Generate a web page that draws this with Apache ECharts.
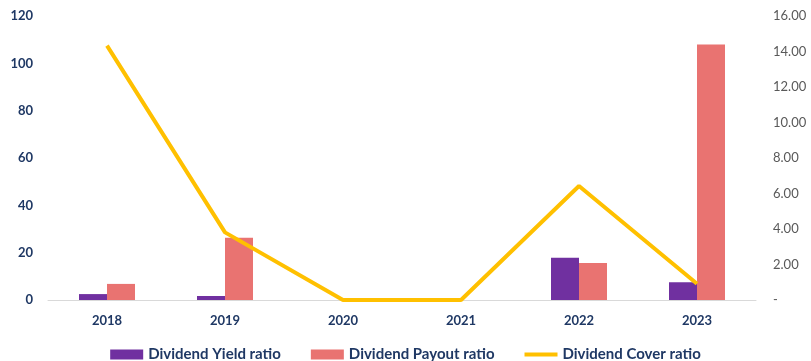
<!DOCTYPE html>
<html>
<head>
<meta charset="utf-8">
<script src="https://cdn.jsdelivr.net/npm/echarts@6/dist/echarts.min.js"></script>
<style>
  html, body { margin: 0; padding: 0; background: #fff; }
  #chart { width: 811px; height: 361px; }
</style>
</head>
<body>
<div id="chart"></div>
<script>
const years = ['2018', '2019', '2020', '2021', '2022', '2023'];
const yieldRatio = [2.5, 1.7, 0, 0, 17.9, 7.5];
const payoutRatio = [6.8, 26.3, 0, 0, 15.6, 108];
const coverRatio = [14.33, 3.81, 0, 0, 6.42, 0.92];

const navy = '#1F3864';
const font = 'Lato';

var myChart = echarts.init(document.getElementById('chart'));
var option = {
    animation: false,
    textStyle: { fontFamily: font },
    grid: { left: 48, right: 55, top: 16, bottom: 61 },
    legend: {
        top: 342,
        left: 'center',
        itemGap: 30,
        itemWidth: 33,
        itemHeight: 10,
        textStyle: { color: navy, fontWeight: 'bold', fontSize: 15, fontFamily: font },
        data: [
            { name: 'Dividend Yield ratio', icon: 'rect' },
            { name: 'Dividend Payout ratio', icon: 'rect' },
            { name: 'Dividend Cover ratio', icon: 'path://M0,3 H35 V7 H0 Z' }
        ]
    },
    xAxis: {
        type: 'category',
        data: years,
        axisLine: { lineStyle: { color: '#D9D9D9', width: 1 } },
        axisTick: { show: false },
        axisLabel: { color: navy, fontWeight: 'bold', fontSize: 13, margin: 14 }
    },
    yAxis: [
        {
            type: 'value',
            min: 0, max: 120, interval: 20,
            splitLine: { show: false },
            axisLine: { show: false },
            axisLabel: { color: navy, fontWeight: 'bold', fontSize: 13, margin: 15 }
        },
        {
            type: 'value',
            min: 0, max: 16, interval: 2,
            splitLine: { show: false },
            axisLine: { show: false },
            axisLabel: {
                color: '#595959', fontSize: 13, margin: 17,
                formatter: function (v) { return v === 0 ? '-' : v.toFixed(2); }
            }
        }
    ],
    series: [
        {
            name: 'Dividend Yield ratio',
            type: 'bar',
            data: yieldRatio,
            barWidth: 28,
            barGap: '0%',
            itemStyle: { color: '#7030A0' }
        },
        {
            name: 'Dividend Payout ratio',
            type: 'bar',
            data: payoutRatio,
            barWidth: 28,
            itemStyle: { color: '#E97371' }
        },
        {
            name: 'Dividend Cover ratio',
            type: 'line',
            yAxisIndex: 1,
            data: coverRatio,
            symbol: 'none',
            lineStyle: { color: '#FFC000', width: 4 },
            itemStyle: { color: '#FFC000' }
        }
    ]
};
myChart.setOption(option);
</script>
</body>
</html>
